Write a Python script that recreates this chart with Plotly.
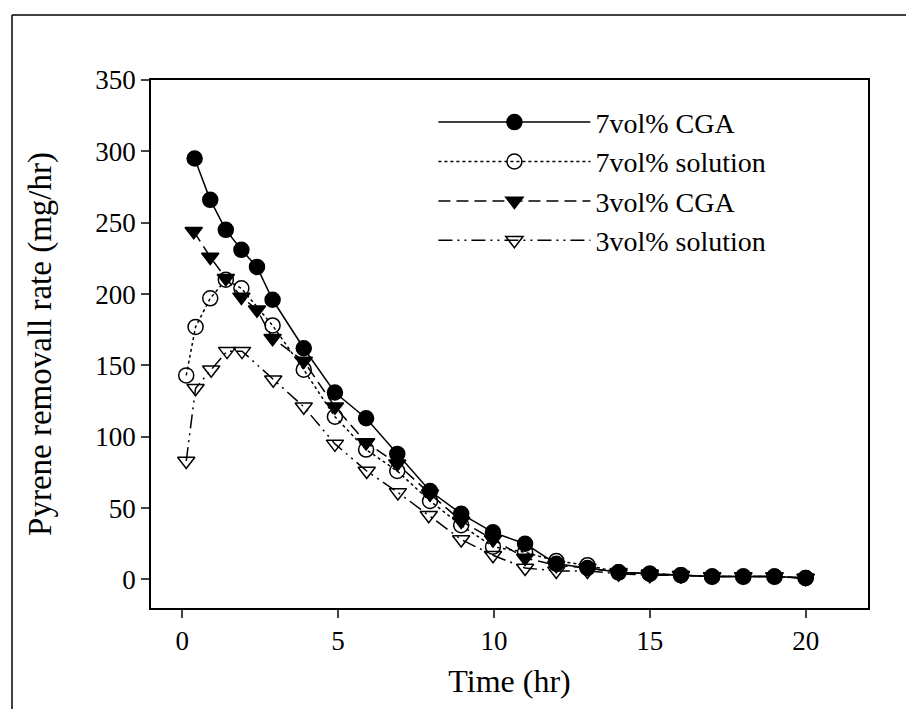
import plotly.graph_objects as go

# --- data ---
t_cga7 = [0.4, 0.9, 1.4, 1.9, 2.4, 2.9, 3.9, 4.9, 5.9, 6.9, 7.95, 8.95, 9.97, 11, 12, 13, 14, 15, 16, 17, 18, 19, 20]
y_cga7 = [295, 266, 245, 231, 219, 196, 162, 131, 113, 88, 62, 46, 33, 25, 11, 8, 5, 4, 3, 2, 2, 2, 1]

t_sol7 = [0.13, 0.43, 0.9, 1.4, 1.9, 2.9, 3.9, 4.9, 5.9, 6.9, 7.95, 8.95, 9.97, 11, 12, 13, 14, 15, 16, 17, 18, 19, 20]
y_sol7 = [143, 177, 197, 210, 204, 178, 147, 114, 91, 76, 55, 38, 23, 19, 13, 10, 5, 4, 3, 2, 2, 2, 1]

t_cga3 = [0.37, 0.9, 1.4, 1.9, 2.4, 2.9, 3.9, 4.9, 5.9, 6.9, 7.95, 8.95, 9.97, 11, 12, 13, 14, 15, 16, 17, 18, 19, 20]
y_cga3 = [244, 226, 211, 198, 189, 169, 153, 121, 96, 81, 60, 41, 28, 15, 10, 8, 5, 4, 3, 2, 2, 2, 1]

t_sol3 = [0.13, 0.43, 0.93, 1.44, 1.92, 2.92, 3.9, 4.9, 5.92, 6.92, 7.91, 8.95, 9.97, 11, 12, 13, 14, 15, 16, 17, 18, 19, 20]
y_sol3 = [83, 134, 147, 160, 160, 140, 121, 95, 76, 61, 45, 28, 17, 8, 6, 6, 4, 3, 3, 2, 2, 2, 1]

names = ["7vol% CGA", "7vol% solution", "3vol% CGA", "3vol% solution"]

x_ticks = [0, 5, 10, 15, 20]
y_ticks = [0, 50, 100, 150, 200, 250, 300, 350]

FONT = "Liberation Serif, Times New Roman, serif"

# the page adds an 8px body margin; size the figure to fill the rest
W, H = 906, 701
L, R, T, B = 143, 46, 72, 101
PW, PH = W - L - R, H - T - B

fig = go.Figure()
specs = [
    (t_cga7, y_cga7, names[0], "circle", "solid"),
    (t_sol7, y_sol7, names[1], "circle-open", "dot"),
    (t_cga3, y_cga3, names[2], "triangle-down", "12px,6px"),
    (t_sol3, y_sol3, names[3], "triangle-down-open", "14px,5px,2px,5px,2px,5px"),
]
for tx, ty, nm, sym, dash in specs:
    fig.add_trace(go.Scatter(
        x=tx, y=ty, name=nm, mode="lines+markers",
        line=dict(color="black", width=1.5, dash=dash),
        marker=dict(symbol=sym, size=15, color="black",
                    line=dict(color="black", width=1.5)),
    ))

fig.update_layout(
    width=W, height=H,
    margin=dict(l=L, r=R, t=T, b=B),
    paper_bgcolor="white", plot_bgcolor="white",
    font=dict(family=FONT, color="black", size=27),
    showlegend=True,
    legend=dict(x=(437 - 8 - L) / PW - 0.005, y=0.967, xanchor="left", yanchor="top",
                bgcolor="rgba(0,0,0,0)", itemwidth=152,
                font=dict(family=FONT, size=28), tracegroupgap=0),
    xaxis=dict(range=[-1, 22], tickvals=x_ticks, ticks="outside", ticklen=8,
               tickwidth=1.5, showline=True, linecolor="black", linewidth=1.5,
               mirror=True, showgrid=False, zeroline=False,
               title=dict(text="Time (hr)", font=dict(size=32), standoff=14)),
    yaxis=dict(range=[-20, 350], tickvals=y_ticks, ticks="outside", ticklen=8,
               tickwidth=1.5, showline=True, linecolor="black", linewidth=1.5,
               mirror=True, showgrid=False, zeroline=False,
               title=dict(text="Pyrene removall rate (mg/hr)", font=dict(size=33), standoff=34)),
)

# outer frame of the scanned figure
fx = (4 - L) / PW
fy = (H - B - 7) / PH
fig.add_shape(type="line", xref="paper", yref="paper",
              x0=fx, x1=fx, y0=fy, y1=-B / PH,
              line=dict(color="black", width=1.5))
fig.add_shape(type="line", xref="paper", yref="paper",
              x0=fx, x1=(W - L) / PW, y0=fy, y1=fy,
              line=dict(color="black", width=1.5))

fig.write_html("out.html")
